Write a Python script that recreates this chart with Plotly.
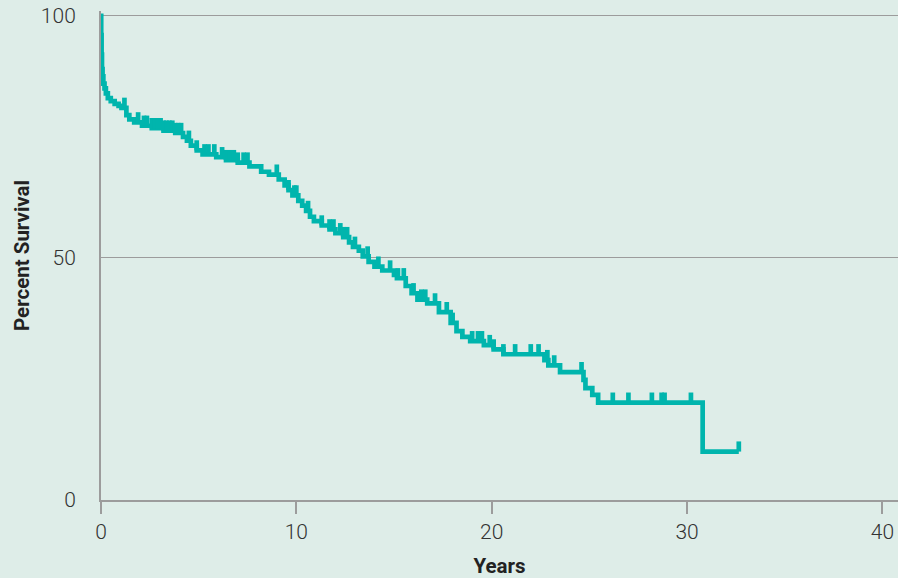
import numpy as np
import plotly.graph_objects as go

# Kaplan-Meier step curve: survival (%) from each event time onward
event_years = [0, 0.01, 0.03, 0.05, 0.08, 0.12, 0.18, 0.25, 0.35, 0.5, 0.7, 0.9, 1.05,
               1.3, 1.45, 1.7, 2.1, 2.6, 3.2, 3.8, 4.2, 4.4, 4.6, 4.9, 5.2, 5.9, 6.4,
               7.0, 7.6, 8.2, 8.6, 9.1, 9.4, 9.6, 9.8, 10.1, 10.3, 10.5, 10.7, 10.9,
               11.3, 11.7, 12.0, 12.4, 12.7, 12.9, 13.2, 13.4, 13.7, 14.0, 14.4, 15.0,
               15.15, 15.6, 15.9, 16.2, 16.7, 17.3, 17.9, 18.2, 18.5, 18.9, 19.6, 20.1,
               20.6, 22.7, 22.9, 23.5, 24.7, 24.8, 25.15, 25.45, 30.8]
survival_pct = [100, 96, 92, 89, 87.5, 86, 85, 84, 83, 82.4, 81.8, 81.4, 81.0,
                79.5, 78.6, 78.0, 77.3, 76.8, 76.3, 75.8, 75.0, 74.2, 73.2, 72.2, 71.4, 70.8, 70.2,
                69.7, 68.9, 67.8, 67.2, 66.2, 65.0, 64.0, 62.9, 61.8, 60.8, 59.7, 58.5, 57.6,
                56.7, 55.9, 55.1, 54.3, 53.2, 52.3, 51.5, 50.3, 49.2, 48.2, 47.4, 46.5,
                45.8, 44.2, 42.7, 41.4, 40.6, 38.8, 36.6, 34.9, 33.7, 32.8, 32.0, 31.1,
                30.1, 28.9, 27.8, 26.4, 24.8, 23.1, 21.7, 20.1, 10.0]
last_followup = 32.65

# censored observations (years)
censor_years = [1.2, 1.9, 2.2, 2.35, 2.6, 2.75, 2.9, 3.05, 3.2, 3.35, 3.5, 3.65, 3.8, 3.95,
                4.1, 4.5, 4.9, 5.3, 5.5, 5.8, 6.2, 6.4, 6.6, 6.8, 7.0, 7.3, 7.5, 9.0, 9.6,
                9.9, 10.0, 10.6, 11.3, 11.7, 11.9, 12.25, 12.4, 12.6, 13.0, 13.65, 14.2,
                14.8, 15.2, 15.5, 16.0, 16.4, 16.6, 17.1, 17.7, 18.0, 19.0, 19.3, 19.5,
                19.9, 20.1, 20.6, 21.2, 22.0, 22.4, 22.85, 23.2, 24.6, 26.2, 27.0, 28.2,
                28.7, 28.85, 30.2, 32.65]

x_ticks = [0, 10, 20, 30, 40]
y_ticks = [0, 50, 100]

TEAL = "#00b5ad"
BG = "#deede8"
GRAY = "#9c9c9c"

line_x = list(event_years) + [last_followup]
line_y = list(survival_pct) + [survival_pct[-1]]

ev = np.array(event_years)
sv = np.array(survival_pct)
idx = np.searchsorted(ev, np.array(censor_years), side="right") - 1
censor_s = sv[idx]

fig = go.Figure()
fig.add_trace(go.Scatter(
    x=line_x, y=line_y, mode="lines", line=dict(color=TEAL, width=4.7, shape="hv"),
    hoverinfo="skip", showlegend=False))
fig.add_trace(go.Scatter(
    x=censor_years, y=censor_s, mode="markers",
    marker=dict(size=1, color=TEAL, opacity=0),
    error_y=dict(type="data", symmetric=False, array=[2.1] * len(censor_years),
                 arrayminus=[0] * len(censor_years), thickness=4.7, width=0, color=TEAL),
    hoverinfo="skip", showlegend=False))

fig.update_layout(
    width=898, height=578,
    paper_bgcolor=BG, plot_bgcolor=BG,
    margin=dict(l=101, r=0, t=11, b=78),
    font=dict(family="Roboto, Lato, sans-serif", color="#333333"),
    xaxis=dict(
        range=[0, 40.8], tickvals=x_ticks, ticktext=[str(v) for v in x_ticks],
        showgrid=False, zeroline=False,
        showline=True, linecolor=GRAY, linewidth=2,
        ticks="outside", ticklen=12, tickwidth=2, tickcolor=GRAY,
        tickfont=dict(size=21, color="#333333", weight=300),
        title=dict(text="Years", font=dict(size=20.5, color="#222222", weight="bold"), standoff=16),
    ),
    yaxis=dict(
        range=[0, 101], tickvals=y_ticks, ticktext=[str(v) for v in y_ticks],
        showgrid=True, gridcolor=GRAY, gridwidth=1.3, zeroline=False,
        showline=True, linecolor=GRAY, linewidth=2,
        ticks="", ticklabelstandoff=19,
        tickfont=dict(size=21, color="#333333", weight=300),
        title=dict(text="Percent Survival", font=dict(size=20.5, color="#222222", weight="bold"), standoff=6),
    ),
)

fig.write_html("out.html", config={"displayModeBar": False},
               post_script="document.body.style.margin='0';document.body.style.overflow='hidden';")
